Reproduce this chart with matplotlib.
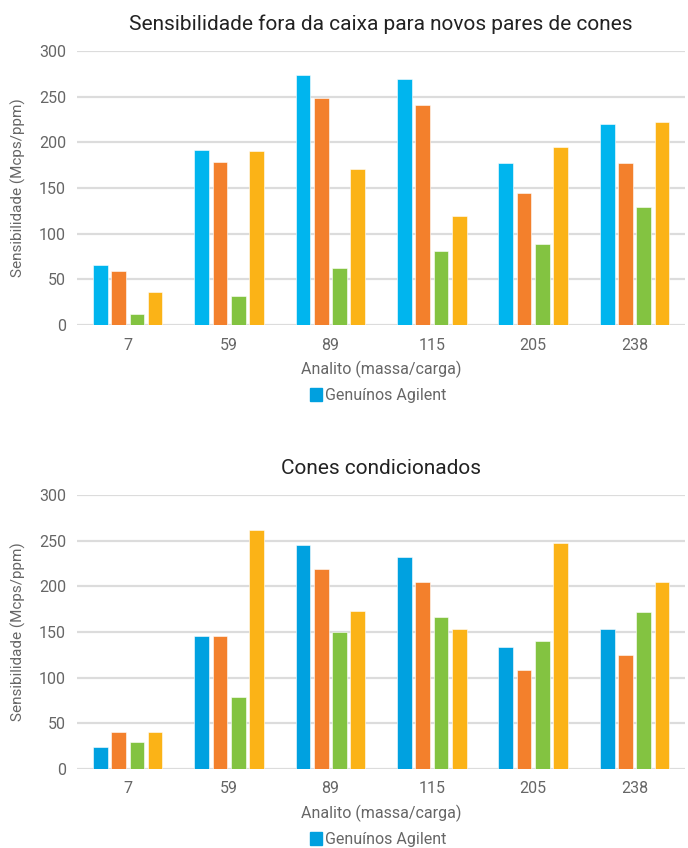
import numpy as np
import matplotlib.pyplot as plt
from matplotlib.patches import Patch

plt.rcParams['font.family'] = ['Roboto', 'DejaVu Sans']

analitos = ['7', '59', '89', '115', '205', '238']

# sensibilidade fora da caixa (Mcps/ppm)
fora_azul = [66, 192, 274, 269, 178, 220]
fora_laranja = [59, 179, 249, 241, 145, 178]
fora_verde = [12, 32, 63, 81, 89, 129]
fora_amarelo = [36, 191, 171, 119, 195, 222]

# cones condicionados (Mcps/ppm)
cond_azul = [24, 146, 245, 232, 134, 153]
cond_laranja = [40, 146, 219, 205, 108, 125]
cond_verde = [29, 79, 150, 166, 140, 172]
cond_amarelo = [41, 262, 173, 153, 248, 205]

LARANJA = '#F3802C'
VERDE = '#83C341'
AMARELO = '#FBB317'
AZUL_LEGENDA = '#00A0DF'


def desenha(ax, titulo, series, cores):
    x = np.arange(len(analitos))
    step = 0.18
    for i, (vals, cor) in enumerate(zip(series, cores)):
        ax.bar(x + (i - 1.5) * step, vals, width=0.145, color=cor,
               edgecolor='#ffffff', linewidth=0.4, zorder=3)
    ax.set_xlim(-0.5, len(analitos) - 0.5)
    ax.set_ylim(0, 300)
    ax.set_yticks(range(0, 301, 50))
    ax.set_xticks(x)
    ax.set_xticklabels(analitos)
    ax.grid(axis='y', color='#dcdcdc', linewidth=1.6, zorder=0)
    ax.set_axisbelow(True)
    for s in ax.spines.values():
        s.set_visible(False)
    ax.tick_params(length=0, labelsize=11.5, labelcolor='#666666')
    ax.tick_params(axis='y', pad=8)
    ax.tick_params(axis='x', pad=9)
    ax.set_title(titulo, fontsize=15, color='#222222', pad=15)
    ax.set_ylabel('Sensibilidade (Mcps/ppm)', fontsize=11, color='#666666', labelpad=9)
    ax.set_xlabel('Analito (massa/carga)', fontsize=11.5, color='#666666', labelpad=6)
    leg = ax.legend(handles=[Patch(color=AZUL_LEGENDA, label='Genuínos Agilent')],
                    loc='upper center', bbox_to_anchor=(0.495, -0.205), frameon=False,
                    fontsize=11.5, handlelength=0.75, handleheight=0.9,
                    handletextpad=0.15, borderaxespad=0)
    for t in leg.get_texts():
        t.set_color('#666666')


fig = plt.figure(figsize=(6.88, 8.48), dpi=100)
ax1 = fig.add_axes([0.112, 0.6167, 0.884, 0.323])
ax2 = fig.add_axes([0.112, 0.0932, 0.884, 0.323])

desenha(ax1, 'Sensibilidade fora da caixa para novos pares de cones',
        [fora_azul, fora_laranja, fora_verde, fora_amarelo],
        ['#00B5EE', LARANJA, VERDE, AMARELO])
desenha(ax2, 'Cones condicionados',
        [cond_azul, cond_laranja, cond_verde, cond_amarelo],
        ['#00A1E0', LARANJA, VERDE, AMARELO])

fig.savefig('out.png', dpi=100)
